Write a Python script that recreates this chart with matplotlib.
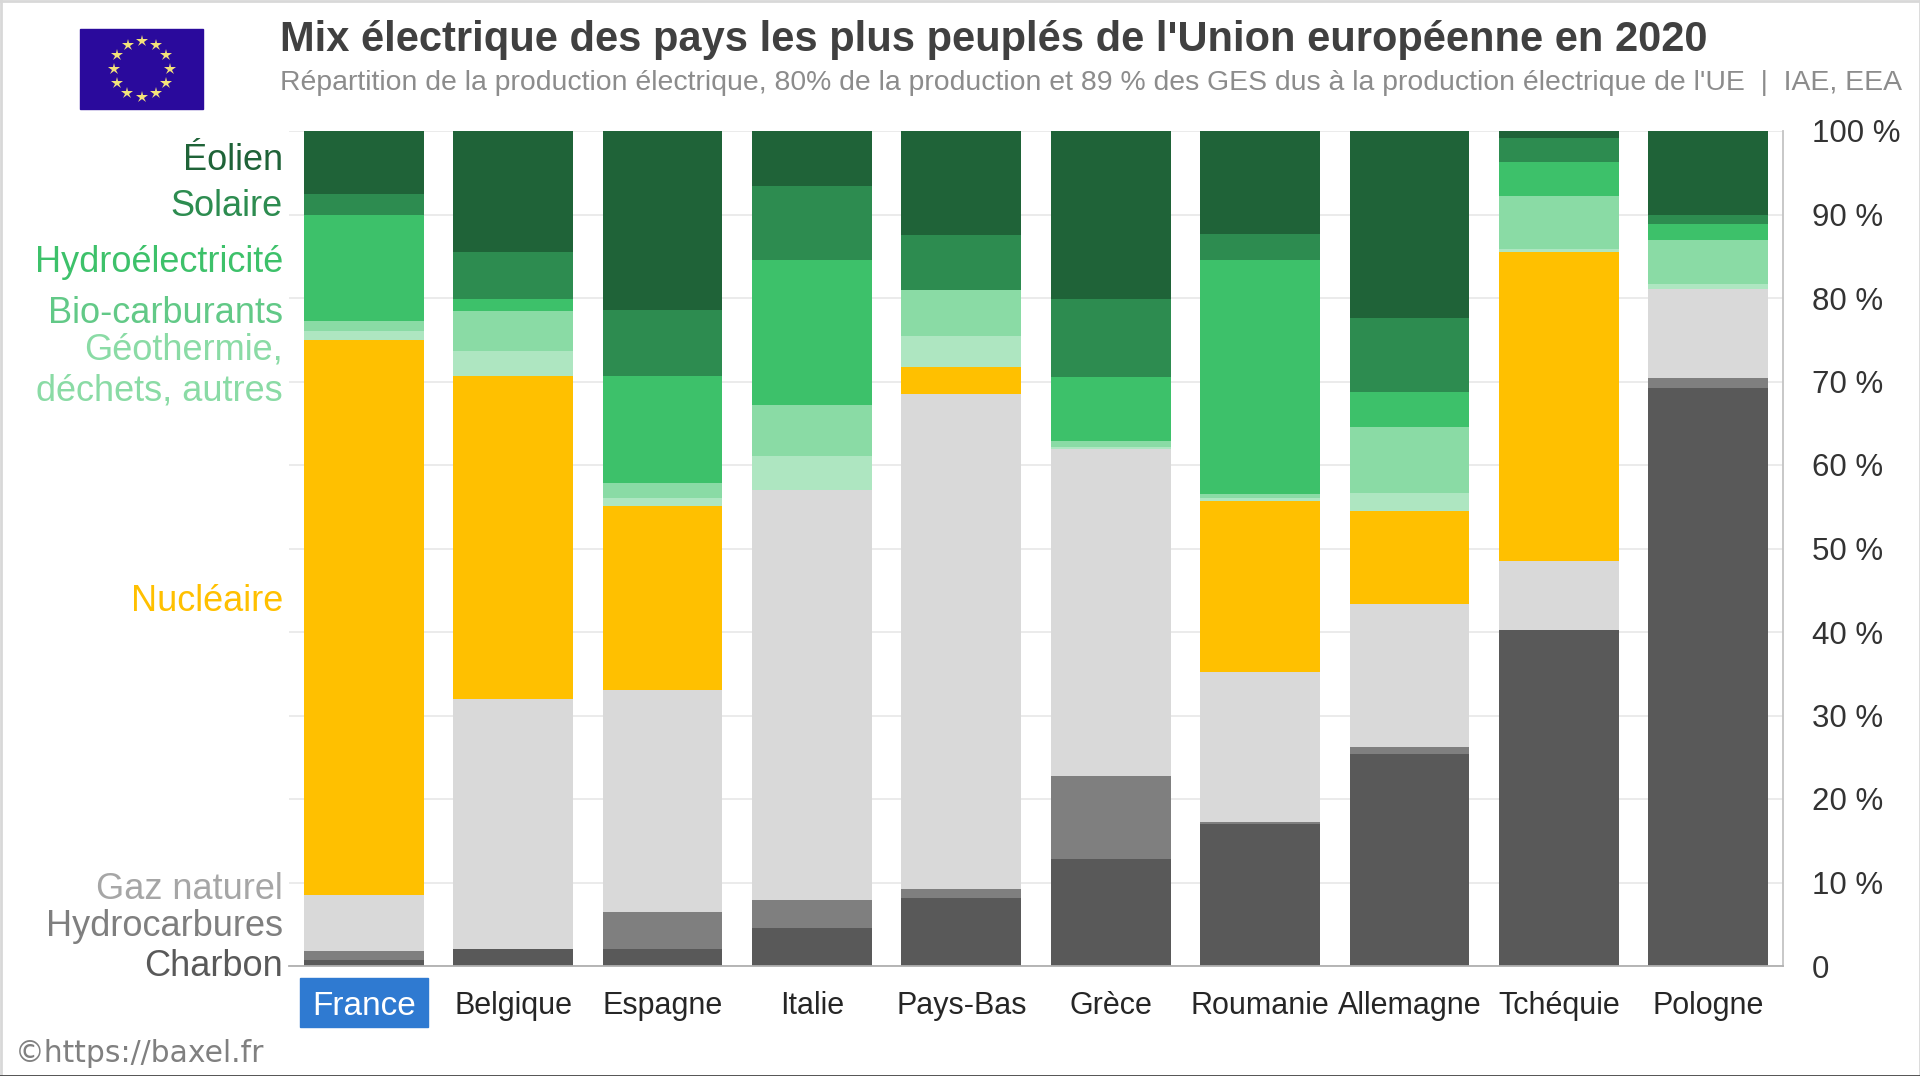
import numpy as np
import matplotlib

matplotlib.use("Agg")
import matplotlib.pyplot as plt
from matplotlib.patches import Rectangle
from matplotlib.transforms import IdentityTransform, blended_transform_factory

W, H = 1920, 1076

countries = ["France", "Belgique", "Espagne", "Italie", "Pays-Bas", "Grèce",
             "Roumanie", "Allemagne", "Tchéquie", "Pologne"]

# shares in %, bottom to top of the stack
charbon = [0.7, 2.05, 2.05, 4.5, 8.1, 12.8, 17.0, 25.4, 40.2, 69.2]
hydrocarbures = [1.1, 0.0, 4.4, 3.4, 1.1, 9.9, 0.3, 0.8, 0.0, 1.2]
gaz = [6.7, 29.95, 26.55, 49.1, 59.3, 39.2, 17.9, 17.2, 8.3, 10.7]
nucleaire = [66.5, 38.7, 22.1, 0.0, 3.2, 0.0, 20.5, 11.1, 37.0, 0.0]
geothermie = [1.0, 2.9, 0.9, 4.1, 3.8, 0.3, 0.3, 2.2, 0.4, 0.6]
biocarburants = [1.3, 4.8, 1.8, 6.1, 5.4, 0.7, 0.5, 7.8, 6.3, 5.3]
hydro = [12.6, 1.5, 12.9, 17.3, 0.0, 7.6, 28.1, 4.3, 4.1, 1.9]
solaire = [2.5, 5.6, 7.9, 8.9, 6.6, 9.4, 3.1, 8.8, 2.9, 1.0]
eolien = [7.6, 14.5, 21.4, 6.6, 12.5, 20.1, 12.3, 22.4, 0.9, 10.1]

series = [charbon, hydrocarbures, gaz, nucleaire, geothermie, biocarburants,
          hydro, solaire, eolien]
colors = ["#595959", "#7f7f7f", "#d9d9d9", "#ffc000", "#aee6c1", "#8adba5",
          "#3dc16a", "#2d8c50", "#1f6338"]

# label text, y position in axis units, colour
labels = [
    ("Éolien", 96.5, "#1f6338"),
    ("Solaire", 91.0, "#2d8c50"),
    ("Hydroélectricité", 84.3, "#3dc16a"),
    ("Bio-carburants", 78.1, "#62c987"),
    ("Géothermie,\ndéchets, autres", 71.3, "#8adba5"),
    ("Nucléaire", 43.7, "#ffc000"),
    ("Gaz naturel", 9.2, "#a6a6a6"),
    ("Hydrocarbures", 4.7, "#7f7f7f"),
    ("Charbon", 0.0, "#595959"),
]

plt.rcParams["font.family"] = ["Liberation Sans", "DejaVu Sans"]

fig = plt.figure(figsize=(W / 100, H / 100), dpi=100)
ax = fig.add_axes([289 / W, 1 - 966 / H, (1783 - 289) / W, (966 - 131) / H])
ax.patch.set_alpha(0)

x = np.arange(len(countries))
bottom = np.zeros(len(countries))
for values, color in zip(series, colors):
    ax.bar(x, values, 0.803, bottom=bottom, color=color, linewidth=0, zorder=2)
    bottom += np.array(values)

ax.set_xlim(-0.5, 9.5)
ax.set_ylim(0, 100)
ax.yaxis.tick_right()
ax.set_yticks(range(0, 101, 10))
ax.set_yticklabels(["0"] + [f"{v} %" for v in range(10, 101, 10)])
ax.set_xticks(x)
ax.set_xticklabels(countries)
ax.tick_params(axis="y", length=0, pad=21, labelsize=22.5, labelcolor="#333333")
ax.tick_params(axis="x", length=0, pad=18, labelsize=22, labelcolor="#262626")
ax.get_xticklabels()[0].set_color("white")
ax.get_xticklabels()[0].set_fontsize(24)
ax.grid(axis="y", color="#e9e9e9", linewidth=1.3, zorder=0)
ax.set_axisbelow(True)
for side in ["top", "left"]:
    ax.spines[side].set_visible(False)
ax.spines["right"].set_color("#c4c4c4")
ax.spines["bottom"].set_color("#b0b0b0")
ax.spines["right"].set_linewidth(1.3)
ax.spines["bottom"].set_linewidth(1.3)

# x in pixels, y in axis units
label_trans = blended_transform_factory(IdentityTransform(), ax.transData)
for text, y, color in labels:
    ax.text(283, y, text, transform=label_trans, ha="right", va="center",
            fontsize=26, color=color, linespacing=1.245)

# blue box behind the first country
fig.add_artist(Rectangle((300 / W, 1 - 1027 / H), 128 / W, 49 / H,
                         transform=fig.transFigure, color="#2f7ad1", zorder=-1))

# flag
fig.add_artist(Rectangle((80 / W, 1 - 109 / H), 123 / W, 80 / H,
                         transform=fig.transFigure, color="#2a0a9c", zorder=1))
angles = np.deg2rad(np.arange(0, 360, 30))
fig.add_artist(plt.Line2D((141.5 + 28 * np.cos(angles)) / W,
                          (1 - (69 - 28 * np.sin(angles)) / H),
                          transform=fig.transFigure, linestyle="none", marker="*",
                          markersize=9, color="#f4e27a", markeredgewidth=0, zorder=2))

fig.text(280 / W, 1 - 40.5 / H, "Mix électrique des pays les plus peuplés de l'Union européenne en 2020",
         fontsize=30, fontweight="bold", color="#404040", ha="left", va="center")
fig.text(280 / W, 1 - 82.5 / H,
         "Répartition de la production électrique, 80% de la production et 89 % des GES dus à la production électrique de l'UE  |  IAE, EEA",
         fontsize=20.45, color="#8c8c8c", ha="left", va="center")
fig.text(15 / W, 1 - 1053 / H, "©https://baxel.fr", fontsize=21.4, color="#808080",
         family="DejaVu Sans", ha="left", va="center")

# picture frame
fig.add_artist(plt.Line2D([0.5 / W, 0.5 / W], [0, 1], color="#d8d8d8", linewidth=2))
fig.add_artist(plt.Line2D([0, 1], [1 - 0.5 / H, 1 - 0.5 / H], color="#d8d8d8", linewidth=2))
fig.add_artist(plt.Line2D([1 - 0.5 / W, 1 - 0.5 / W], [0, 1], color="#d8d8d8", linewidth=2))
fig.add_artist(plt.Line2D([0, 1], [0.5 / H, 0.5 / H], color="#444444", linewidth=2))

fig.savefig("out.png", dpi=100)
